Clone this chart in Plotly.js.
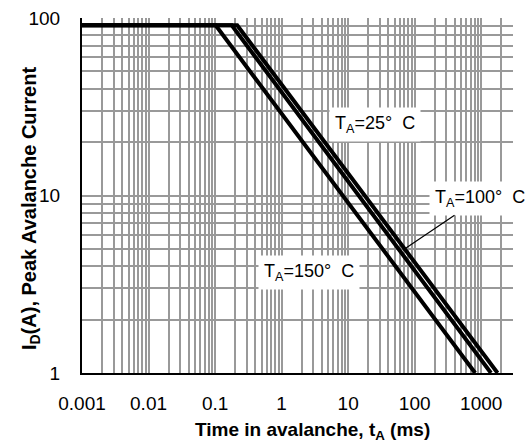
<!DOCTYPE html>
<html>
<head>
<meta charset="utf-8">
<script src="https://cdn.plot.ly/plotly-3.0.1.min.js"></script>
<style>html,body{margin:0;padding:0;background:#fff;}#chart{width:531px;height:443px;}</style>
</head>
<body>
<div id="chart"></div>
<script>
// Series values (t in ms, I in A)
const t150 = [0.001, 0.102, 810];
const i150 = [91, 91, 1];
const t100 = [0.001, 0.178, 1400];
const i100 = [91, 91, 1];
const t25 = [0.001, 0.215, 1760];
const i25 = [91, 91, 1];

// Tick labels
const xMajorVals = [0.001, 0.01, 0.1, 1, 10, 100, 1000];
const xMajorLabels = ['0.001', '0.01', '0.1', '1', '10', '100', '1000'];
const yMajorVals = [1, 10, 100];
const yMajorLabels = ['1', '10', '100'];

// minor grid positions (2..9 within each decade)
function minorGrid(majors, maxVal) {
  const vals = [];
  majors.forEach(d => {
    for (let m = 2; m <= 9; m++) {
      const v = +(d * m).toPrecision(6);
      if (v > maxVal * 1.0001) break;
      vals.push(v);
    }
  });
  return vals;
}
const xMinor = minorGrid(xMajorVals, 3000);
const yMinor = minorGrid(yMajorVals.slice(0, 2), 100);

const lineStyle = {color: '#000', width: 4};
const data = [
  {x: t150, y: i150, mode: 'lines', line: lineStyle, name: '150', hoverinfo: 'skip'},
  {x: t100, y: i100, mode: 'lines', line: lineStyle, name: '100', hoverinfo: 'skip'},
  {x: t25, y: i25, mode: 'lines', line: lineStyle, name: '25', hoverinfo: 'skip'}
];

const FONT = 'Arial, "Liberation Sans", sans-serif';
const annFont = {family: FONT, size: 18, color: '#000'};
const GRID = '#999';

const layout = {
  width: 531, height: 443,
  margin: {l: 82, r: 17.5, t: 18.3, b: 70.3, pad: 0},
  paper_bgcolor: '#fff', plot_bgcolor: '#fff',
  showlegend: false,
  font: {family: FONT, color: '#000'},
  xaxis: {
    type: 'log', range: [-3, Math.log10(3000)],
    tickmode: 'array', tickvals: xMajorVals, ticktext: xMajorLabels,
    ticks: '', showgrid: true, gridcolor: GRID, gridwidth: 2,
    minor: {tickmode: 'array', tickvals: xMinor, ticks: '', showgrid: true, gridcolor: GRID, gridwidth: 2},
    showline: true, linecolor: '#000', linewidth: 2, mirror: false,
    zeroline: false, tickfont: {family: FONT, size: 19, color: '#000'},
    ticklabelstandoff: 12
  },
  yaxis: {
    type: 'log', range: [0, 2],
    tickmode: 'array', tickvals: yMajorVals, ticktext: yMajorLabels,
    ticks: '', showgrid: true, gridcolor: GRID, gridwidth: 2,
    minor: {tickmode: 'array', tickvals: yMinor, ticks: '', showgrid: true, gridcolor: GRID, gridwidth: 2},
    showline: true, linecolor: '#000', linewidth: 2, mirror: false,
    zeroline: false, tickfont: {family: FONT, size: 19, color: '#000'},
    ticklabelstandoff: 16
  },
  annotations: [
    {xref: 'paper', yref: 'paper', x: -0.118, y: 0.465, xanchor: 'center', yanchor: 'middle', textangle: -90,
     text: 'I<sub>D</sub>(A), Peak Avalanche Current', showarrow: false,
     font: {family: FONT, size: 20, weight: 700, color: '#000'}},
    {xref: 'paper', yref: 'paper', x: 0.535, y: -0.1645, xanchor: 'center', yanchor: 'middle',
     text: 'Time in avalanche, t<sub>A</sub> (ms)', showarrow: false,
     font: {family: FONT, size: 19, weight: 700, color: '#000'}},
    {xref: 'paper', yref: 'paper', x: 0.68, y: 0.70, xanchor: 'center', yanchor: 'middle',
     text: 'T<sub>A</sub>=25°\u00a0\u00a0C',
     showarrow: false, bgcolor: '#fff', borderpad: 5, font: annFont},
    {xref: 'paper', yref: 'paper', x: 0.744, y: 0.346, text: 'T<sub>A</sub>=100°\u00a0\u00a0C',
     xanchor: 'center', yanchor: 'middle',
     showarrow: true, arrowhead: 0, arrowwidth: 1.2, arrowcolor: '#000', ax: 77, ay: -52,
     bgcolor: '#fff', borderpad: 5, font: annFont},
    {xref: 'paper', yref: 'paper', x: 0.526, y: 0.284, xanchor: 'center', yanchor: 'middle',
     text: 'T<sub>A</sub>=150°\u00a0\u00a0C',
     showarrow: false, bgcolor: '#fff', borderpad: 5, font: annFont}
  ]
};

Plotly.newPlot('chart', data, layout, {displayModeBar: false, staticPlot: true});
</script>
</body>
</html>
